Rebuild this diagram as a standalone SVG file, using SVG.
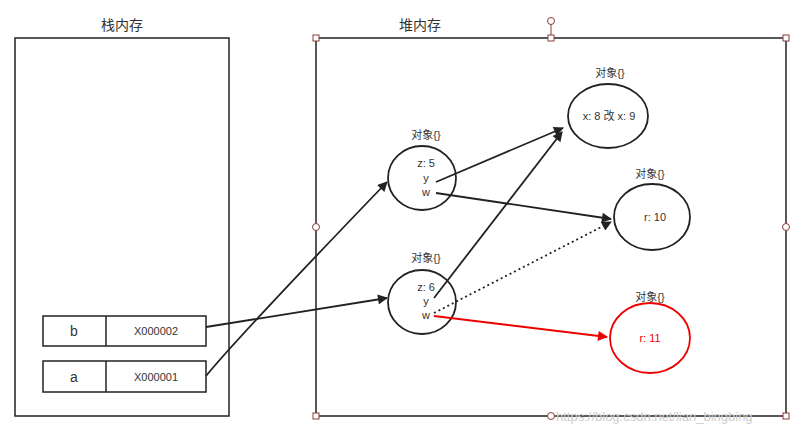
<svg xmlns="http://www.w3.org/2000/svg" width="800" height="436" viewBox="0 0 800 436">
<defs>
<style>
text{font-family:"Liberation Sans","Noto Sans CJK SC",sans-serif;fill:#333}
.t{font-size:14px;text-anchor:middle}
.s{font-size:11px;text-anchor:middle}
.box{fill:none;stroke:#222;stroke-width:1.5}
.el{fill:#fff;stroke:#222;stroke-width:1.8}
.c{stroke:#222;stroke-width:1.8;fill:none;marker-end:url(#ah)}
.h{fill:#fff;stroke:#8b3a3a;stroke-width:1}
</style>
<marker id="ah" viewBox="0 0 10 10" refX="9" refY="5" markerWidth="11" markerHeight="10" orient="auto" markerUnits="userSpaceOnUse"><path d="M0,0L10,5L0,10z" fill="#222"/></marker>
<marker id="ahr" viewBox="0 0 10 10" refX="9" refY="5" markerWidth="11" markerHeight="10" orient="auto" markerUnits="userSpaceOnUse"><path d="M0,0L10,5L0,10z" fill="#e00"/></marker>
</defs>
<rect width="800" height="436" fill="#fff"/>
<g id="stack">
<text class="t" x="122" y="30">栈内存</text>
<rect class="box" x="15" y="38" width="214" height="378"/>
</g>
<g id="heap">
<text class="t" x="420" y="30">堆内存</text>
<rect class="box" x="316" y="38" width="470" height="378" stroke="#3a2020"/>
<line x1="551" y1="38" x2="551" y2="21" stroke="#8b3a3a"/>
<circle class="h" cx="551" cy="21" r="3.5"/>
<rect class="h" x="313" y="35" width="6" height="6"/><rect class="h" x="548" y="35" width="6" height="6"/><rect class="h" x="783" y="35" width="6" height="6"/>
<rect class="h" x="313" y="413" width="6" height="6"/><rect class="h" x="783" y="413" width="6" height="6"/>
<circle class="h" cx="316" cy="227" r="3.5"/><circle class="h" cx="786" cy="227" r="3.5"/><circle class="h" cx="551" cy="416" r="3.5"/>
</g>
<g id="var-b">
<rect class="box" x="43" y="316" width="163" height="30"/><line x1="106" y1="316" x2="106" y2="346" stroke="#222" stroke-width="1.5"/>
<text class="t" x="74" y="336" font-size="15">b</text><text class="s" x="156" y="335" font-size="12">X000002</text>
</g>
<g id="var-a">
<rect class="box" x="43" y="361" width="163" height="31"/><line x1="106" y1="361" x2="106" y2="392" stroke="#222" stroke-width="1.5"/>
<text class="t" x="74" y="382" font-size="15">a</text><text class="s" x="156" y="381" font-size="12">X000001</text>
</g>
<g id="obj1">
<text class="s" x="426" y="139">对象{}</text>
<ellipse class="el" cx="422" cy="178" rx="34" ry="32"/>
<text class="s" x="426" y="167">z: 5</text><text class="s" x="426" y="182">y</text><text class="s" x="426" y="196">w</text>
</g>
<g id="obj2">
<text class="s" x="426" y="262">对象{}</text>
<ellipse class="el" cx="422" cy="302" rx="34" ry="32"/>
<text class="s" x="426" y="291">z: 6</text><text class="s" x="426" y="305">y</text><text class="s" x="426" y="319">w</text>
</g>
<g id="objX">
<text class="s" x="610" y="77">对象{}</text>
<ellipse class="el" cx="608" cy="116" rx="40" ry="32"/>
<text class="s" x="609" y="120" font-size="12">x: 8 改 x: 9</text>
</g>
<g id="objR10">
<text class="s" x="650" y="178">对象{}</text>
<ellipse class="el" cx="652" cy="217" rx="38" ry="33"/>
<text class="s" x="655" y="221">r: 10</text>
</g>
<g id="objR11">
<text class="s" x="650" y="301">对象{}</text>
<ellipse cx="650" cy="338" rx="40" ry="35" fill="#fff" stroke="#e00" stroke-width="1.8"/>
<text class="s" x="650" y="342" style="fill:#e00">r: 11</text>
</g>
<g id="connectors">
<line class="c" x1="206" y1="327" x2="387" y2="298"/>
<path class="c" d="M206,376 Q235,340 387,182"/>
<line class="c" x1="436" y1="182" x2="563" y2="128"/>
<line class="c" x1="436" y1="193" x2="611" y2="219"/>
<line class="c" x1="434" y1="298" x2="562" y2="132"/>
<line class="c" x1="434" y1="313" x2="611" y2="222" stroke-dasharray="2,3"/>
<line x1="434" y1="316" x2="607" y2="337" stroke="#e00" stroke-width="2" marker-end="url(#ahr)"/>
</g>
<text x="556" y="421" font-size="13" style="fill:#ccc">https://blog.csdn.net/lian_bingbing</text>
</svg>
